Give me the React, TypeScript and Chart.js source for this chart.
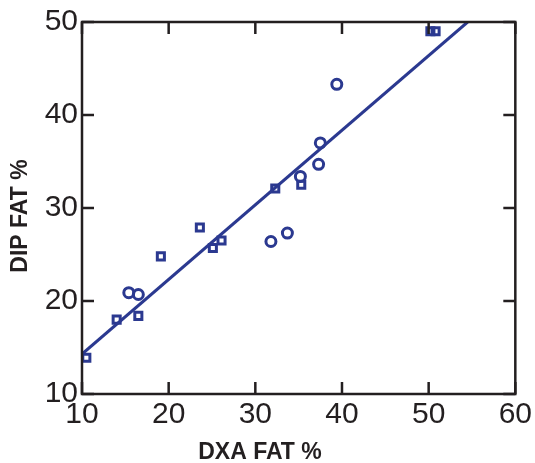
import React, { useEffect, useRef } from "react";
import { Chart, registerables } from "chart.js";

Chart.register(...registerables);

const dxaFat = [10.5, 14.0, 15.4, 16.5, 16.5, 19.1, 23.6, 25.1, 26.1, 31.8, 32.3, 33.7, 35.2, 35.3, 37.3, 37.5, 39.4, 50.2, 50.8];
const dipFat = [13.9, 18.0, 20.9, 20.7, 18.4, 24.8, 27.9, 25.7, 26.5, 26.4, 32.1, 27.3, 33.4, 32.5, 34.7, 37.0, 43.3, 49.0, 49.0];
const markerStyles = ["rect", "rect", "circle", "circle", "rect", "rect", "rect", "rect", "rect", "circle", "rect", "circle", "circle", "rect", "circle", "circle", "circle", "rect", "rect"];
const fitX = [10, 54.5];
const fitY = [14.3, 50];
const xTicks = [10, 20, 30, 40, 50, 60];
const yTicks = [10, 20, 30, 40, 50];
const xTitle = "DXA FAT %";
const yTitle = "DIP FAT %";

const INK = "#231f20";
const BLUE = "#2b3990";
const FONT = "'Liberation Sans', Arial, sans-serif";

const framePlugin = {
  id: "frame",
  afterDraw(chart: any) {
    const { ctx, chartArea: a, scales } = chart;
    const tl = 12;
    ctx.save();
    ctx.strokeStyle = INK;
    ctx.lineWidth = 2.5;
    ctx.strokeRect(a.left, a.top, a.right - a.left, a.bottom - a.top);
    ctx.beginPath();
    for (const v of xTicks) {
      const px = scales.x.getPixelForValue(v);
      ctx.moveTo(px, a.bottom);
      ctx.lineTo(px, a.bottom - tl);
      ctx.moveTo(px, a.top);
      ctx.lineTo(px, a.top + tl);
    }
    for (const v of yTicks) {
      const py = scales.y.getPixelForValue(v);
      ctx.moveTo(a.left, py);
      ctx.lineTo(a.left + tl, py);
      ctx.moveTo(a.right, py);
      ctx.lineTo(a.right - tl, py);
    }
    ctx.stroke();
    ctx.fillStyle = INK;
    ctx.font = "bold 23px " + FONT;
    ctx.textAlign = "center";
    ctx.textBaseline = "middle";
    ctx.fillText(xTitle, 260, 453);
    ctx.translate(21, 216);
    ctx.rotate(-Math.PI / 2);
    ctx.fillText(yTitle, 0, 0);
    ctx.restore();
  },
};

export default function App() {
  const ref = useRef<HTMLCanvasElement>(null);
  useEffect(() => {
    document.body.style.margin = "0";
    const chart = new Chart(ref.current!, {
      type: "scatter",
      data: {
        datasets: [
          {
            type: "line",
            data: fitX.map((x, i) => ({ x, y: fitY[i] })),
            borderColor: BLUE,
            borderWidth: 3,
            pointRadius: 0,
            fill: false,
          } as any,
          {
            data: dxaFat.map((x, i) => ({ x, y: dipFat[i] })),
            pointStyle: markerStyles as any,
            pointRadius: 5,
            borderColor: BLUE,
            backgroundColor: "rgba(0,0,0,0)",
            pointBorderWidth: 3,
          },
        ],
      },
      plugins: [framePlugin],
      options: {
        responsive: false,
        animation: false,
        layout: { padding: { left: 0, top: 19, right: 19, bottom: 0 } },
        plugins: { legend: { display: false }, tooltip: { enabled: false } },
        scales: {
          x: {
            type: "linear",
            min: 10,
            max: 60,
            afterFit: (s: any) => { s.height = 69; },
            grid: { display: false, drawTicks: false },
            border: { display: false },
            afterBuildTicks: (s: any) => { s.ticks = xTicks.map((v) => ({ value: v })); },
            ticks: { color: INK, padding: 3, font: { size: 30, family: FONT }, maxRotation: 0 },
          },
          y: {
            type: "linear",
            min: 10,
            max: 50,
            afterFit: (s: any) => { s.width = 82; },
            grid: { display: false, drawTicks: false },
            border: { display: false },
            afterBuildTicks: (s: any) => { s.ticks = yTicks.map((v) => ({ value: v })); },
            ticks: { color: INK, padding: 4, font: { size: 30, family: FONT } },
          },
        },
      },
    });
    return () => chart.destroy();
  }, []);
  return (
    <div style={{ position: "fixed", left: 0, top: 0 }}>
      <canvas ref={ref} width={535} height={463} />
    </div>
  );
}
